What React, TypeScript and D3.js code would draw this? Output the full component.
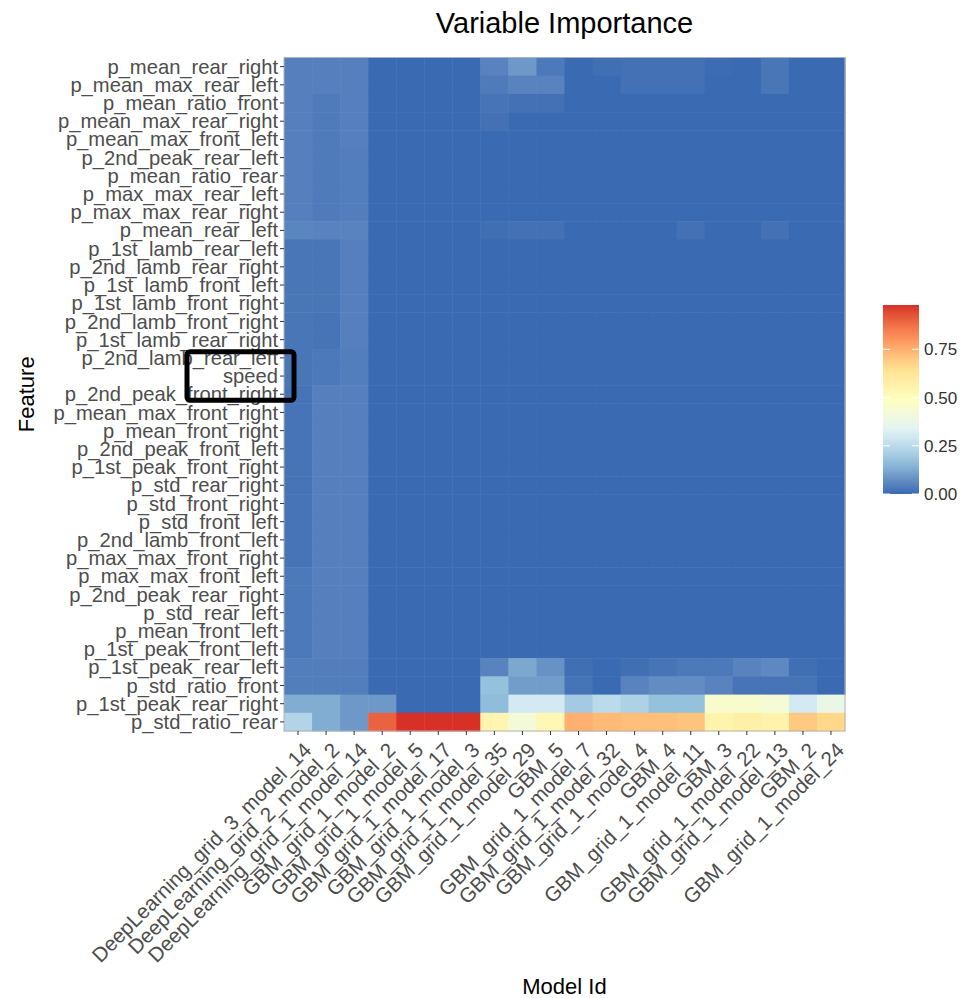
import React from 'react';
import * as d3 from 'd3';

const features = [
  'p_mean_rear_right', 'p_mean_max_rear_left', 'p_mean_ratio_front', 'p_mean_max_rear_right',
  'p_mean_max_front_left', 'p_2nd_peak_rear_left', 'p_mean_ratio_rear', 'p_max_max_rear_left',
  'p_max_max_rear_right', 'p_mean_rear_left', 'p_1st_lamb_rear_left', 'p_2nd_lamb_rear_right',
  'p_1st_lamb_front_left', 'p_1st_lamb_front_right', 'p_2nd_lamb_front_right', 'p_1st_lamb_rear_right',
  'p_2nd_lamb_rear_left', 'speed', 'p_2nd_peak_front_right', 'p_mean_max_front_right',
  'p_mean_front_right', 'p_2nd_peak_front_left', 'p_1st_peak_front_right', 'p_std_rear_right',
  'p_std_front_right', 'p_std_front_left', 'p_2nd_lamb_front_left', 'p_max_max_front_right',
  'p_max_max_front_left', 'p_2nd_peak_rear_right', 'p_std_rear_left', 'p_mean_front_left',
  'p_1st_peak_front_left', 'p_1st_peak_rear_left', 'p_std_ratio_front', 'p_1st_peak_rear_right',
  'p_std_ratio_rear',
];

const models = [
  'DeepLearning_grid_3_model_14', 'DeepLearning_grid_2_model_2', 'DeepLearning_grid_1_model_14',
  'GBM_grid_1_model_2', 'GBM_grid_1_model_5', 'GBM_grid_1_model_17', 'GBM_grid_1_model_3',
  'GBM_grid_1_model_35', 'GBM_grid_1_model_29', 'GBM_5', 'GBM_grid_1_model_7', 'GBM_grid_1_model_32',
  'GBM_grid_1_model_4', 'GBM_4', 'GBM_grid_1_model_11', 'GBM_3', 'GBM_grid_1_model_22',
  'GBM_grid_1_model_13', 'GBM_2', 'GBM_grid_1_model_24',
];

// one row per feature, one value per model (same order as models)
const importance = [
  [0.045, 0.045, 0.045, 0, 0, 0, 0, 0.05, 0.09, 0.03, 0, 0.01, 0.015, 0.015, 0.015, 0.005, 0, 0.025, 0, 0],
  [0.045, 0.045, 0.045, 0, 0, 0, 0, 0.035, 0.05, 0.05, 0, 0, 0.015, 0.015, 0.015, 0, 0, 0.025, 0, 0],
  [0.045, 0.035, 0.045, 0, 0, 0, 0, 0.02, 0.015, 0.015, 0, 0, 0, 0, 0, 0, 0, 0, 0, 0],
  [0.045, 0.035, 0.045, 0, 0, 0, 0, 0.015, 0, 0, 0, 0, 0, 0, 0, 0, 0, 0, 0, 0],
  [0.045, 0.035, 0.045, 0, 0, 0, 0, 0, 0, 0, 0, 0, 0, 0, 0, 0, 0, 0, 0, 0],
  [0.045, 0.035, 0.04, 0, 0, 0, 0, 0, 0, 0, 0, 0, 0, 0, 0, 0, 0, 0, 0, 0],
  [0.045, 0.035, 0.04, 0, 0, 0, 0, 0, 0, 0, 0, 0, 0, 0, 0, 0, 0, 0, 0, 0],
  [0.045, 0.035, 0.04, 0, 0, 0, 0, 0, 0, 0, 0, 0, 0, 0, 0, 0, 0, 0, 0, 0],
  [0.045, 0.035, 0.04, 0, 0, 0, 0, 0, 0, 0, 0, 0, 0, 0, 0, 0, 0, 0, 0, 0],
  [0.055, 0.05, 0.05, 0, 0, 0, 0, 0.01, 0.015, 0.015, 0, 0, 0, 0, 0.015, 0, 0, 0.015, 0, 0],
  [0.025, 0.025, 0.045, 0, 0, 0, 0, 0, 0, 0, 0, 0, 0, 0, 0, 0, 0, 0, 0, 0],
  [0.025, 0.025, 0.045, 0, 0, 0, 0, 0, 0, 0, 0, 0, 0, 0, 0, 0, 0, 0, 0, 0],
  [0.025, 0.025, 0.045, 0, 0, 0, 0, 0, 0, 0, 0, 0, 0, 0, 0, 0, 0, 0, 0, 0],
  [0.025, 0.025, 0.045, 0, 0, 0, 0, 0, 0, 0, 0, 0, 0, 0, 0, 0, 0, 0, 0, 0],
  [0.025, 0.02, 0.045, 0, 0, 0, 0, 0, 0, 0, 0, 0, 0, 0, 0, 0, 0, 0, 0, 0],
  [0.025, 0.02, 0.045, 0, 0, 0, 0, 0, 0, 0, 0, 0, 0, 0, 0, 0, 0, 0, 0, 0],
  [0.025, 0.03, 0.04, 0, 0, 0, 0, 0, 0, 0, 0, 0, 0, 0, 0, 0, 0, 0, 0, 0],
  [0.025, 0.03, 0.04, 0, 0, 0, 0, 0, 0, 0, 0, 0, 0, 0, 0, 0, 0, 0, 0, 0],
  [0.02, 0.045, 0.045, 0, 0, 0, 0, 0, 0, 0, 0, 0, 0, 0, 0, 0, 0, 0, 0, 0],
  [0.02, 0.045, 0.045, 0, 0, 0, 0, 0, 0, 0, 0, 0, 0, 0, 0, 0, 0, 0, 0, 0],
  [0.02, 0.045, 0.045, 0, 0, 0, 0, 0, 0, 0, 0, 0, 0, 0, 0, 0, 0, 0, 0, 0],
  [0.02, 0.045, 0.045, 0, 0, 0, 0, 0, 0, 0, 0, 0, 0, 0, 0, 0, 0, 0, 0, 0],
  [0.02, 0.045, 0.045, 0, 0, 0, 0, 0, 0, 0, 0, 0, 0, 0, 0, 0, 0, 0, 0, 0],
  [0.02, 0.045, 0.045, 0, 0, 0, 0, 0, 0, 0, 0, 0, 0, 0, 0, 0, 0, 0, 0, 0],
  [0.02, 0.045, 0.045, 0, 0, 0, 0, 0, 0, 0, 0, 0, 0, 0, 0, 0, 0, 0, 0, 0],
  [0.02, 0.045, 0.045, 0, 0, 0, 0, 0, 0, 0, 0, 0, 0, 0, 0, 0, 0, 0, 0, 0],
  [0.02, 0.045, 0.045, 0, 0, 0, 0, 0, 0, 0, 0, 0, 0, 0, 0, 0, 0, 0, 0, 0],
  [0.02, 0.045, 0.045, 0, 0, 0, 0, 0, 0, 0, 0, 0, 0, 0, 0, 0, 0, 0, 0, 0],
  [0.03, 0.045, 0.045, 0, 0, 0, 0, 0, 0, 0, 0, 0, 0, 0, 0, 0, 0, 0, 0, 0],
  [0.03, 0.045, 0.045, 0, 0, 0, 0, 0, 0, 0, 0, 0, 0, 0, 0, 0, 0, 0, 0, 0],
  [0.03, 0.045, 0.045, 0, 0, 0, 0, 0, 0, 0, 0, 0, 0, 0, 0, 0, 0, 0, 0, 0],
  [0.03, 0.045, 0.045, 0, 0, 0, 0, 0, 0, 0, 0, 0, 0, 0, 0, 0, 0, 0, 0, 0],
  [0.03, 0.045, 0.045, 0, 0, 0, 0, 0, 0, 0, 0, 0, 0, 0, 0, 0, 0, 0, 0, 0],
  [0.04, 0.04, 0.04, 0, 0, 0, 0, 0.05, 0.12, 0.08, 0.01, 0, 0.01, 0.02, 0.03, 0.03, 0.05, 0.06, 0.01, 0],
  [0.04, 0.04, 0.04, 0, 0, 0, 0, 0.17, 0.1, 0.1, 0.02, 0, 0.05, 0.07, 0.07, 0.05, 0.02, 0.02, 0.02, 0],
  [0.13, 0.13, 0.09, 0.09, 0, 0, 0, 0.16, 0.3, 0.3, 0.2, 0.25, 0.22, 0.17, 0.17, 0.45, 0.45, 0.43, 0.3, 0.38],
  [0.23, 0.13, 0.09, 0.9, 0.98, 0.98, 0.98, 0.54, 0.42, 0.53, 0.75, 0.73, 0.72, 0.72, 0.71, 0.55, 0.57, 0.56, 0.7, 0.67],
];

const legendBreaks = [0, 0.25, 0.5, 0.75];
const palette = ['#3a6ab1', '#91bfdb', '#e0f3f8', '#ffffbf', '#fee090', '#fc8d59', '#d73027'];

const W = 973;
const H = 998;
const margin = { top: 57.5, right: 128, bottom: 267, left: 284 };
const font = '"Liberation Sans", Arial, sans-serif';

const App = () => {
  const maxV = d3.max(importance.flat()) || 1;
  const color = d3
    .scaleLinear<string>()
    .domain(palette.map((_, i) => (i * maxV) / (palette.length - 1)))
    .range(palette)
    .interpolate(d3.interpolateLab);

  const x = d3.scaleBand().domain(models).range([margin.left, W - margin.right]);
  const y = d3.scaleBand().domain(features).range([margin.top, H - margin.bottom]);
  const [px0, px1] = x.range();
  const [py0, py1] = y.range();

  const legend = { x: 883, y: 305, w: 36, h: 189 };
  const ly = d3.scaleLinear().domain([0, maxV]).range([legend.y + legend.h, legend.y]);
  const stops = d3.range(0, 1.0001, 0.05);

  // annotation box around "speed"
  const boxTop = (y('p_2nd_lamb_rear_left') || 0) + 3;
  const boxBottom = (y('p_2nd_peak_front_right') || 0) + y.bandwidth() - 3;

  return (
    <svg width={W} height={H} style={{ position: 'absolute', left: 0, top: 0, background: '#fff' }}>
      <defs>
        <linearGradient id="cbar" x1="0" y1="1" x2="0" y2="0">
          {stops.map((t) => (
            <stop key={t} offset={t} stopColor={color(t * maxV)} />
          ))}
        </linearGradient>
      </defs>

      <text x={(px0 + px1) / 2} y={33} textAnchor="middle" fontFamily={font} fontSize={29} fill="#000">
        Variable Importance
      </text>

      <g>
        {importance.map((row, i) =>
          row.map((v, j) => (
            <rect
              key={`${i}-${j}`}
              x={x(models[j])}
              y={y(features[i])}
              width={x.bandwidth() + 0.5}
              height={y.bandwidth() + 0.5}
              fill={color(v)}
            />
          )),
        )}
      </g>
      <rect x={px0} y={py0} width={px1 - px0} height={py1 - py0} fill="none" stroke="#b3b3b3" strokeWidth={1} />

      {/* y axis */}
      <g fontFamily={font} fontSize={20.2} fill="#4d4d4d">
        {features.map((f) => {
          const cy = (y(f) || 0) + y.bandwidth() / 2;
          return (
            <g key={f}>
              <line x1={px0 - 4} x2={px0} y1={cy} y2={cy} stroke="#333" strokeWidth={1} />
              <text x={px0 - 6} y={cy} dy="0.35em" textAnchor="end">
                {f}
              </text>
            </g>
          );
        })}
      </g>

      {/* x axis */}
      <g fontFamily={font} fontSize={20.6} fill="#4d4d4d">
        {models.map((m) => {
          const cx = (x(m) || 0) + x.bandwidth() / 2;
          return (
            <g key={m}>
              <line x1={cx} x2={cx} y1={py1} y2={py1 + 4} stroke="#333" strokeWidth={1} />
              <text transform={`translate(${cx + 4},${py1 + 10}) rotate(-45)`} dy="0.72em" textAnchor="end">
                {m}
              </text>
            </g>
          );
        })}
      </g>

      <text x={(px0 + px1) / 2} y={994} textAnchor="middle" fontFamily={font} fontSize={22} fill="#000">
        Model Id
      </text>
      <text transform={`translate(34,${(py0 + py1) / 2}) rotate(-90)`} textAnchor="middle" fontFamily={font} fontSize={22} fill="#000">
        Feature
      </text>

      {/* colour bar */}
      <rect x={legend.x} y={legend.y} width={legend.w} height={legend.h} fill="url(#cbar)" />
      {legendBreaks.map((b) => (
        <g key={b}>
          <line x1={legend.x} x2={legend.x + 7} y1={ly(b)} y2={ly(b)} stroke="#fff" strokeWidth={1} />
          <line x1={legend.x + legend.w - 7} x2={legend.x + legend.w} y1={ly(b)} y2={ly(b)} stroke="#fff" strokeWidth={1} />
          <text x={legend.x + legend.w + 5} y={ly(b)} dy="0.35em" fontFamily={font} fontSize={17} fill="#333">
            {b.toFixed(2)}
          </text>
        </g>
      ))}

      <rect
        x={px0 - 97}
        y={boxTop}
        width={107}
        height={boxBottom - boxTop}
        rx={3}
        fill="none"
        stroke="#000"
        strokeWidth={5}
      />
    </svg>
  );
};

export default App;
